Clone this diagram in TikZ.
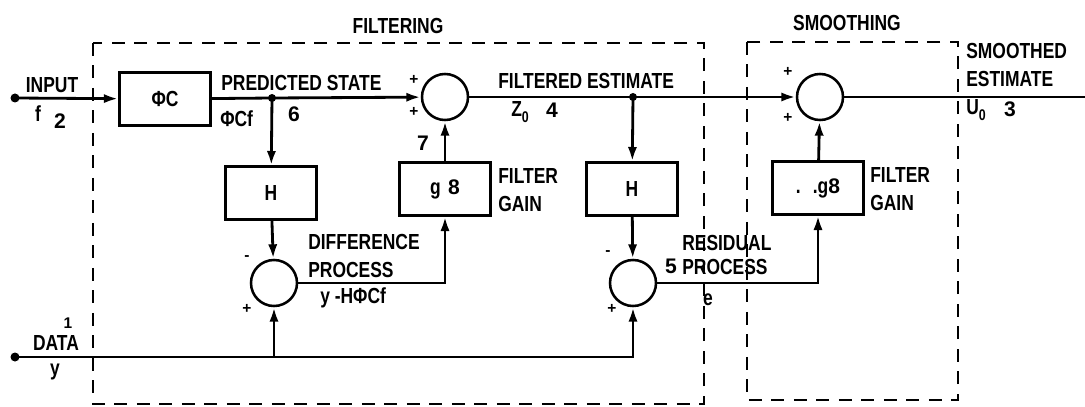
\documentclass[tikz,border=0pt]{standalone}
\usepackage{fontspec}
\setmainfont[FakeStretch=0.8]{Liberation Sans}
\newfontfamily\numfont{Liberation Sans}
\usetikzlibrary{arrows.meta,positioning}

\newcommand{\subzero}{\raisebox{-0.55ex}{\fontsize{11}{11}\selectfont 0}}

\begin{document}
\begin{tikzpicture}[x=0.025cm, y=-0.025cm,
    font=\fontsize{15.5}{19.5}\selectfont\bfseries,
    >={Latex[length=3.6mm,width=2.3mm]},
    sig/.style={line width=2pt},
    blk/.style={draw, line width=1.7pt, minimum width=2.28cm, minimum height=1.32cm, inner sep=0pt},
    sumnode/.style={draw, circle, line width=1.8pt, minimum size=1.15cm, inner sep=0pt},
    grp/.style={line width=1.6pt, dash pattern=on 9pt off 7pt},
    num/.style={font=\numfont\fontsize{15}{17}\selectfont\bfseries, inner sep=0pt},
    sgn/.style={font=\numfont\fontsize{11}{12}\selectfont\bfseries, inner sep=0pt}]
  \useasboundingbox (0,0) rectangle (1085,407);

  % group boxes
  \draw[grp] (93,43) rectangle (704,404);
  \draw[grp] (747,42) rectangle (958,400);
  \node (tfilt) at (398,26) {FILTERING};
  \node (tsmth) at (847,23) {SMOOTHING};

  % blocks
  \node[blk] (phic) at (165,99) {ΦC};
  \node[blk] (hpred) at (271,193) {H};
  \node[blk] (gfilt) at (445,189) {g\,\,{\numfont\fontsize{15}{17}\selectfont 8}};
  \node[blk] (hres) at (632,189) {H};
  \node[blk] (gsmth) at (818,188) {.\hspace{0.3cm}.g{\numfont\fontsize{15}{17}\selectfont 8}};
  \node[sumnode] (sumf) at (445,97) {};
  \node[sumnode] (diff) at (274,283) {};
  \node[sumnode] (resid) at (633,283) {};
  \node[sumnode] (sums) at (820,97) {};

  % end points and junctions
  \coordinate (in) at (15,98);
  \coordinate (data) at (15,357);
  \coordinate (jpred) at (272,98);
  \coordinate (jfilt) at (633,97);
  \coordinate (out) at (1085,97);
  \fill (in) circle (4.5);
  \fill (data) circle (4.5);
  \fill (jpred) circle (4);
  \fill (jfilt) circle (4);

  % signal lines
  \draw[sig,->] (in) -- (phic);
  \draw[sig] (phic) -- (jpred);
  \draw[sig,->] (jpred) -- (sumf);
  \draw[sig,->] (jpred) -- (hpred);
  \draw[sig,->] (hpred) -- (diff);
  \draw[sig,->] (diff.east) -| (gfilt);
  \draw[sig,->] (gfilt) -- (sumf);
  \draw[sig] (sumf) -- (jfilt);
  \draw[sig,->] (jfilt) -- (sums);
  \draw[sig,->] (jfilt) -- (hres);
  \draw[sig,->] (hres) -- (resid);
  \draw[sig,->] (resid.east) -| (gsmth);
  \draw[sig,->] (gsmth) -- (sums);
  \draw[sig] (sums) -- (out);
  \draw[sig,->] (data) -| (resid);
  \draw[sig,->] (diff |- data) -- (diff);

  % labels
  \node (linput) at (52,85) {INPUT};
  \node (lf) at (38,114) {f};
  \node[num] (n2) at (60,121) {2};
  \node[anchor=west, inner sep=0pt] (lpred) at (221,83) {PREDICTED STATE};
  \node[anchor=west, inner sep=0pt] (lphicf) at (220,119) {ΦCf};
  \node[num] (n6) at (294,114) {6};
  \node[sgn] (p1) at (414,80) {+};
  \node[sgn] (p2) at (414,112) {+};
  \node[num] (n7) at (423,143) {7};
  \node[anchor=west, align=left, inner sep=0pt] (lgain1) at (498,190) {FILTER\\GAIN};
  \node[sgn] (m1) at (247,258) {-};
  \node[sgn] (p3) at (247,309) {+};
  \node[anchor=west, align=left, inner sep=0pt] (ldiff) at (308,256) {DIFFERENCE\\PROCESS};
  \node[anchor=west, inner sep=0pt] (lyh) at (320,298) {y -HΦCf};
  \node[num, font=\numfont\fontsize{11}{12}\selectfont\bfseries] (n1) at (68,323) {1};
  \node (ldata) at (56,343) {DATA};
  \node (ly) at (55,372) {y};
  \node[anchor=west, inner sep=0pt] (lfilt) at (498,81) {FILTERED ESTIMATE};
  \node[anchor=west, inner sep=0pt] (lz) at (511,112) {Z\subzero};
  \node[num] (n4) at (552,110) {4};
  \node[sgn] (m2) at (608,253) {-};
  \node[sgn] (p4) at (612,309) {+};
  \node[anchor=west, inner sep=0pt] (lres) at (682,243) {RESIDUAL};
  \node[num] (n5) at (671,266) {5};
  \node[anchor=west, inner sep=0pt] (lproc) at (682,267) {PROCESS};
  \node (le) at (708,300) {e};
  \node[sgn] (p5) at (788,72) {+};
  \node[sgn] (p6) at (788,118) {+};
  \node[anchor=west, align=left, inner sep=0pt] (lgain2) at (870,189) {FILTER\\GAIN};
  \node[anchor=west, align=left, inner sep=0pt] (lsmth) at (966,65) {SMOOTHED\\ESTIMATE};
  \node[anchor=west, inner sep=0pt] (lu) at (966,110) {U\subzero};
  \node[num] (n3) at (1010,109) {3};
\end{tikzpicture}
\end{document}
